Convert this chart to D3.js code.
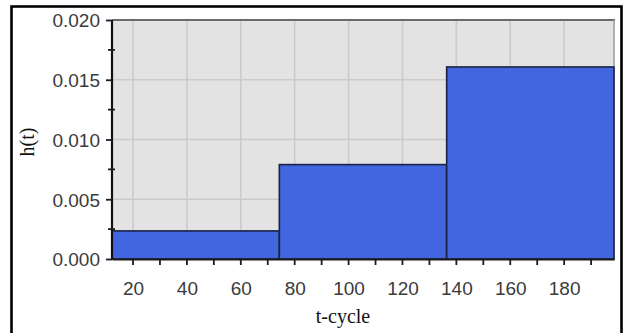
<!DOCTYPE html>
<html>
<head>
<meta charset="utf-8">
<script src="https://cdn.jsdelivr.net/npm/d3@7"></script>
<style>
  html, body { margin: 0; padding: 0; background: #fff; }
  svg { display: block; }
</style>
</head>
<body>
<svg id="chart" width="628" height="333"></svg>
<script>
// Hazard rate per cycle interval
const binEdges = [12.2, 74.3, 136.4, 198.5];
const hazard = [0.00235, 0.0079, 0.01607];
const xTickValues = [20, 40, 60, 80, 100, 120, 140, 160, 180];
const yTickValues = [0.000, 0.005, 0.010, 0.015, 0.020];

const bins = hazard.map((h, i) => ({ x0: binEdges[i], x1: binEdges[i + 1], h }));

const svg = d3.select("#chart");
const plot = { left: 112, right: 614, top: 20, bottom: 259 };

const x = d3.scaleLinear().domain([binEdges[0], binEdges[binEdges.length - 1]]).range([plot.left, plot.right]);
const y = d3.scaleLinear().domain([0, 0.02]).range([plot.bottom, plot.top]);

// outer frame
svg.append("rect")
  .attr("x", 11.5).attr("y", 6.5)
  .attr("width", 610).attr("height", 340)
  .attr("fill", "none").attr("stroke", "#000").attr("stroke-width", 2.6);

// plot background
svg.append("rect")
  .attr("x", plot.left).attr("y", plot.top)
  .attr("width", plot.right - plot.left).attr("height", plot.bottom - plot.top)
  .attr("fill", "#e3e3e3");

// grid
const grid = svg.append("g").attr("stroke", "#cbcbcb").attr("stroke-width", 1.6);
grid.selectAll("line.v").data(xTickValues).join("line")
  .attr("class", "v")
  .attr("x1", d => x(d)).attr("x2", d => x(d))
  .attr("y1", plot.top).attr("y2", plot.bottom);
grid.selectAll("line.h").data(yTickValues.slice(1, -1)).join("line")
  .attr("class", "h")
  .attr("x1", plot.left).attr("x2", plot.right)
  .attr("y1", d => y(d)).attr("y2", d => y(d));

// plot frame (top and right)
svg.append("line")
  .attr("x1", plot.left).attr("x2", plot.right + 1)
  .attr("y1", plot.top).attr("y2", plot.top)
  .attr("stroke", "#6b6b6b").attr("stroke-width", 2);
svg.append("line")
  .attr("x1", plot.right).attr("x2", plot.right)
  .attr("y1", plot.top).attr("y2", plot.bottom)
  .attr("stroke", "#9a9a9a").attr("stroke-width", 1.5);

// bars
svg.append("g").selectAll("rect").data(bins).join("rect")
  .attr("x", d => x(d.x0))
  .attr("y", d => y(d.h))
  .attr("width", d => x(d.x1) - x(d.x0))
  .attr("height", d => y(0) - y(d.h))
  .attr("fill", "#4166df")
  .attr("stroke", "#1b2244")
  .attr("stroke-width", 1.6);

const tickFont = "'Liberation Sans', Arial, sans-serif";
const tickColor = "#3b3b3b";

// x axis
const xMinor = d3.range(30, 200, 20);
const xAxis = d3.axisBottom(x)
  .tickValues(xTickValues)
  .tickSize(0)
  .tickPadding(23)
  .tickFormat(d3.format("d"));
const gx = svg.append("g").attr("transform", `translate(0,${plot.bottom})`).call(xAxis);
gx.select(".domain").attr("stroke", "#1b1b1b").attr("stroke-width", 2);
gx.selectAll("text").attr("font-family", tickFont).attr("font-size", 19).attr("fill", tickColor);
gx.selectAll("line.tk").data(xTickValues.concat(xMinor)).join("line")
  .attr("class", "tk")
  .attr("x1", d => x(d)).attr("x2", d => x(d))
  .attr("y1", 0).attr("y2", 6)
  .attr("stroke", "#1b1b1b").attr("stroke-width", 1.8);

// y axis
const yAxis = d3.axisLeft(y)
  .tickValues(yTickValues)
  .tickSize(6)
  .tickPadding(6)
  .tickFormat(d3.format(".3f"));
const gy = svg.append("g").attr("transform", `translate(${plot.left},0)`).call(yAxis);
gy.select(".domain").attr("stroke", "#111").attr("stroke-width", 2.2).attr("d", `M0,${plot.top}V${plot.bottom}`);
gy.selectAll(".tick line").attr("stroke", "#1b1b1b").attr("stroke-width", 1.8);
gy.selectAll("text").attr("font-family", tickFont).attr("font-size", 19).attr("fill", tickColor).attr("dy", "0.36em");
const yMinor = [0.0025, 0.0075, 0.0125, 0.0175];
gy.selectAll("line.minor").data(yMinor).join("line")
  .attr("class", "minor")
  .attr("x1", -4).attr("x2", 3)
  .attr("y1", d => y(d)).attr("y2", d => y(d))
  .attr("stroke", "#1b1b1b").attr("stroke-width", 1.8);

// axis titles
const titleFont = "'Liberation Serif', 'Times New Roman', serif";
svg.append("text")
  .attr("x", (plot.left + plot.right) / 2 - 20).attr("y", 323)
  .attr("text-anchor", "middle")
  .attr("font-family", titleFont).attr("font-size", 20).attr("fill", "#111")
  .text("t-cycle");
svg.append("text")
  .attr("transform", "translate(34,142) rotate(-90)")
  .attr("text-anchor", "middle")
  .attr("font-family", titleFont).attr("font-size", 20).attr("fill", "#111")
  .text("h(t)");
</script>
</body>
</html>
